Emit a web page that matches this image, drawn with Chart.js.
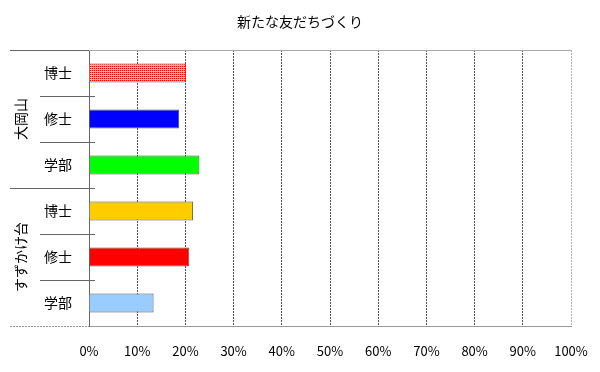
<!DOCTYPE html>
<html>
<head>
<meta charset="utf-8">
<script src="https://cdn.jsdelivr.net/npm/chart.js@4/dist/chart.umd.min.js"></script>
<style>
  html, body { margin: 0; padding: 0; background: #fff; }
  #wrap { width: 600px; height: 372px; }
</style>
</head>
<body>
<div id="wrap"><canvas id="friendChart" width="600" height="372"></canvas></div>
<script>
// data (percent)
const chartTitle = '新たな友だちづくり';
const groups = ['大岡山', 'すずかけ台'];
const degrees = ['博士', '修士', '学部'];
const categories = ['博士', '修士', '学部', '博士', '修士', '学部'];
const values = [20.1, 18.7, 22.9, 21.6, 20.8, 13.4];
const xTicks = [0, 10, 20, 30, 40, 50, 60, 70, 80, 90, 100];

const JP = '"Noto Sans CJK JP", "Noto Sans", sans-serif';

// orange bar: red dots on yellow, like the Excel pattern fill
function dotPattern() {
    const c = document.createElement('canvas');
    c.width = 2; c.height = 2;
    const g = c.getContext('2d');
    g.fillStyle = '#ffcc00';
    g.fillRect(0, 0, 2, 2);
    g.fillStyle = '#ff0000';
    g.fillRect(0, 0, 1, 1);
    return g.createPattern(c, 'repeat');
}

const barColors = [dotPattern(), '#0000ff', '#00ff00', '#ffcc00', '#ff0000', '#99ccff'];

// title, group labels and the separator lines on the left
const groupLabels = {
    id: 'groupLabels',
    afterDraw(chart) {
        const { ctx, chartArea } = chart;
        const y = chart.scales.y;
        const half = i => (y.getPixelForValue(i) + y.getPixelForValue(i + 1)) / 2;

        ctx.save();
        ctx.fillStyle = '#000';
        ctx.font = '14px ' + JP;
        ctx.textAlign = 'center';
        ctx.textBaseline = 'middle';
        ctx.fillText(chartTitle, 300, 22);

        ctx.strokeStyle = '#666';
        ctx.lineWidth = 1;
        // top frame line
        ctx.beginPath();
        ctx.moveTo(10, chartArea.top + 0.5);
        ctx.lineTo(chartArea.left, chartArea.top + 0.5);
        ctx.stroke();
        ctx.strokeStyle = '#aaa';
        ctx.beginPath();
        ctx.moveTo(chartArea.left, chartArea.top + 0.5);
        ctx.lineTo(chartArea.right, chartArea.top + 0.5);
        ctx.stroke();

        // separators between categories and groups
        ctx.strokeStyle = '#666';
        for (let i = 0; i < categories.length - 1; i++) {
            const yy = Math.round(half(i)) + 0.5;
            const isGroup = (i + 1) % degrees.length === 0;
            ctx.beginPath();
            ctx.moveTo(isGroup ? 10 : 40, yy);
            ctx.lineTo(chartArea.left + 6, yy);
            ctx.stroke();
        }
        // bottom line, left part
        ctx.strokeStyle = '#999';
        ctx.setLineDash([2, 1]);
        ctx.beginPath();
        ctx.moveTo(10, chartArea.bottom + 0.5);
        ctx.lineTo(chartArea.left, chartArea.bottom + 0.5);
        ctx.stroke();
        ctx.setLineDash([]);

        // vertical group names
        ctx.fillStyle = '#000';
        ctx.font = '14px ' + JP;
        groups.forEach((name, g) => {
            const first = g * degrees.length;
            const last = first + degrees.length - 1;
            const cy = (y.getPixelForValue(first) + y.getPixelForValue(last)) / 2;
            ctx.save();
            ctx.translate(21, cy);
            ctx.rotate(-Math.PI / 2);
            ctx.fillText(name, 0, 0);
            ctx.restore();
        });
        ctx.restore();
    }
};

new Chart(document.getElementById('friendChart'), {
    type: 'bar',
    data: {
        labels: categories,
        datasets: [{
            data: values,
            backgroundColor: barColors,
            borderColor: '#555',
            borderWidth: 1,
            barPercentage: 0.41,
            categoryPercentage: 1
        }]
    },
    options: {
        indexAxis: 'y',
        responsive: false,
        animation: false,
        layout: { padding: { top: 50, right: 29, left: 0, bottom: 0 } },
        plugins: {
            legend: { display: false },
            tooltip: { enabled: false },
            title: { display: false }
        },
        scales: {
            x: {
                min: 0,
                max: 100,
                afterFit: s => { s.height = 46; s.paddingLeft = 0; s.paddingRight = 0; },
                afterBuildTicks: s => { s.ticks = xTicks.map(v => ({ value: v })); },
                ticks: {
                    padding: 17,
                    color: '#000',
                    font: { family: JP, size: 13 },
                    callback: v => v + '%'
                },
                grid: {
                    drawTicks: false,
                    color: c => c.tick && c.tick.value === 0 ? 'rgba(0,0,0,0)' :
                        (c.tick && c.tick.value === 100 ? '#bbb' : '#555')
                },
                border: { color: '#999', dash: [2, 1] }
            },
            y: {
                afterFit: s => { s.width = 89; },
                ticks: {
                    padding: 17,
                    color: '#000',
                    font: { family: JP, size: 14 }
                },
                grid: { display: false, drawTicks: false },
                border: { display: true, color: '#666', width: 1 }
            }
        }
    },
    plugins: [groupLabels]
});
</script>
</body>
</html>
